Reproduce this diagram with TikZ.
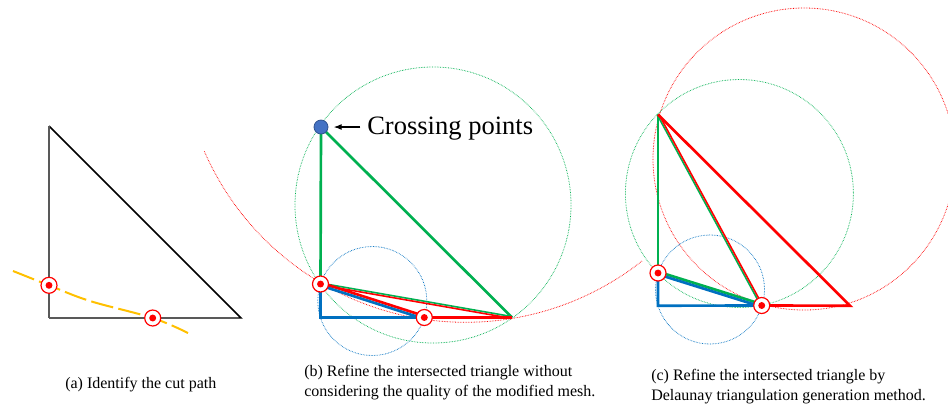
\documentclass[tikz,border=0pt]{standalone}
\usepackage{fontspec}
\setmainfont{Liberation Serif}
\usetikzlibrary{arrows.meta}
\definecolor{mgreen}{HTML}{00B050}
\definecolor{mblue}{HTML}{0070C0}
\definecolor{mred}{HTML}{FF0000}
\definecolor{morange}{HTML}{FFC000}
\definecolor{ptfill}{HTML}{4472C4}
\definecolor{ptedge}{HTML}{2F528F}
\begin{document}
\begin{tikzpicture}[x=0.75pt,y=-0.75pt,
  dotc/.style={line width=0.6pt, dash pattern=on 0.45pt off 0.75pt},
  segline/.style={line width=2pt},
  thinseg/.style={line width=1.2pt},
  cutpt/.style={circle, draw=mred, fill=white, line width=0.9pt, minimum size=12pt, inner sep=0pt,
    path picture={\fill[mred] (path picture bounding box.center) circle (2.6pt);}},
  captxt/.style={anchor=base west, inner sep=0pt, font=\fontsize{12}{15}\selectfont}
]
\path[use as bounding box] (0,0) rectangle (948,405);
\clip (0,0) rectangle (948,405);

% ---------- panel (a)
\coordinate (aT) at (49,126);
\coordinate (aC) at (49,318);
\coordinate (aR) at (241,318);
\draw[black, line width=1.1pt] (aC) -- (aR) -- (aT);
\draw[black!65, line width=1.6pt] (aT) -- (aC);
\draw[morange, line width=1.5pt, dash pattern=on 17pt off 4pt]
  plot[smooth, tension=0.6] coordinates {(13,271) (49,285.3) (90,301) (152.7,318) (188,333)};
\node[cutpt] (aP1) at (49,285.3) {};
\node[cutpt] (aP2) at (152.7,318) {};

% ---------- panel (b)
\coordinate (bT) at (321,127);
\coordinate (bP1) at (320.5,284);
\coordinate (bC) at (320.5,317.5);
\coordinate (bP2) at (424.3,317.5);
\coordinate (bR) at (512,317.5);
\draw[mgreen, dotc] (433,205) circle[radius=138];
\draw[mblue, dotc] (372.3,301) circle[radius=54.5];
\draw[mred, dotc] (465.5,37.3) ++(156.4:285) arc[start angle=156.4, end angle=51.7, radius=285];
\draw[mgreen, segline] (bP1) -- (bT) -- (bR);
\draw[mblue, segline] (bP1) -- (bC) -- (bP2);
\draw[mgreen, thinseg, transform canvas={yshift=0.7pt}] (bP1) -- (bR);
\draw[mred, thinseg, transform canvas={yshift=-0.7pt}] (bP1) -- (bR);
\draw[mred, segline, transform canvas={yshift=1.1pt}] (bP1) -- (bP2);
\draw[mblue, segline, transform canvas={yshift=-1.1pt}] (bP1) -- (bP2);
\draw[mred, segline] (bP2) -- (bR);
\node[circle, fill=ptfill, draw=ptedge, line width=0.6pt, minimum size=10.5pt, inner sep=0pt] (bX) at (bT) {};
\node[anchor=base west, inner sep=0pt, font=\fontsize{19.9}{24}\selectfont] (lbl) at (367,134) {Crossing points};
\draw[-{Latex[length=6pt,width=4.5pt]}, line width=0.8pt, shorten <=5pt, shorten >=4pt]
  (lbl.west |- bX.east) -- (bX.east);
\node[cutpt] (bM1) at (bP1) {};
\node[cutpt] (bM2) at (bP2) {};

% ---------- panel (c)
\coordinate (cT) at (658,114.5);
\coordinate (cP1) at (658,273);
\coordinate (cC) at (658,305.7);
\coordinate (cP2) at (761.7,305.5);
\coordinate (cR) at (850,305.7);
\draw[mgreen, dotc] (739.4,193.5) circle[radius=114];
\draw[mred, dotc] (804,159) circle[radius=151];
\draw[mblue, dotc] (710,289.5) circle[radius=54.5];
\draw[mgreen, segline] (cT) -- (cP1);
\draw[mblue, segline] (cP1) -- (cC) -- (cP2);
\draw[mgreen, segline, transform canvas={yshift=1pt}] (cP1) -- (cP2);
\draw[mblue, segline, transform canvas={yshift=-1pt}] (cP1) -- (cP2);
\draw[mgreen, thinseg, transform canvas={xshift=-0.7pt}] (cT) -- (cP2);
\draw[mred, thinseg, transform canvas={xshift=0.7pt}] (cT) -- (cP2);
\draw[mred, segline] (cT) -- (cR) -- (cP2);
\node[cutpt] (cM1) at (cP1) {};
\node[cutpt] (cM2) at (cP2) {};

% ---------- captions
\node[captxt] (capA) at (65,388) {(a) Identify the cut path};
\node[captxt] (capB1) at (304,376) {(b) Refine the intersected triangle without};
\node[captxt] (capB2) at (304,396) {considering the quality of the modified mesh.};
\node[captxt] (capC1) at (651,380) {(c) Refine the intersected triangle by};
\node[captxt] (capC2) at (651,400) {Delaunay triangulation generation method.};
\end{tikzpicture}
\end{document}
